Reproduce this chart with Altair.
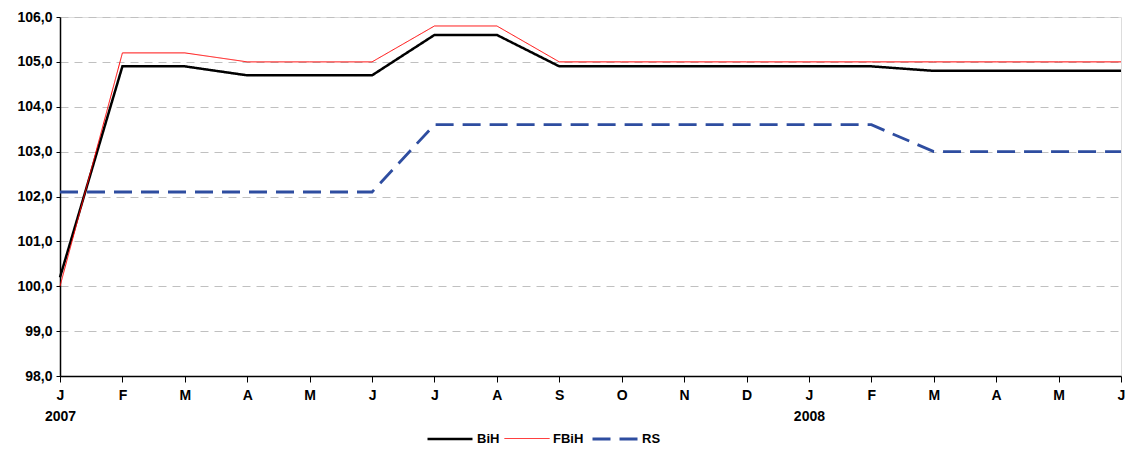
import altair as alt
import pandas as pd

month_labels = ["J", "F", "M", "A", "M", "J", "J", "A", "S", "O", "N", "D",
                "J", "F", "M", "A", "M", "J"]
year_labels = {0: "2007", 12: "2008"}

bih = [100.2, 104.9, 104.9, 104.7, 104.7, 104.7, 105.6, 105.6, 104.9, 104.9,
       104.9, 104.9, 104.9, 104.9, 104.8, 104.8, 104.8, 104.8]
fbih = [100.0, 105.2, 105.2, 105.0, 105.0, 105.0, 105.8, 105.8, 105.0, 105.0,
        105.0, 105.0, 105.0, 105.0, 105.0, 105.0, 105.0, 105.0]
rs = [102.1, 102.1, 102.1, 102.1, 102.1, 102.1, 103.6, 103.6, 103.6, 103.6,
      103.6, 103.6, 103.6, 103.6, 103.0, 103.0, 103.0, 103.0]

series = ["BiH", "FBiH", "RS"]
colors = ["#000000", "#ff0000", "#2e4da0"]
widths = [2.5, 1.0, 2.8]
dashes = [[1, 0], [1, 0], [18, 9]]

rows = []
for name, vals in zip(series, [bih, fbih, rs]):
    for i, v in enumerate(vals):
        rows.append({"i": i, "value": v, "series": name})
df = pd.DataFrame(rows)

label_map = "{" + ",".join(
    f"{i}: {repr([m, year_labels[i]]) if i in year_labels else repr(m)}"
    for i, m in enumerate(month_labels)
) + "}"
label_expr = "(" + label_map + ")[datum.value]"

font = "Arial, Liberation Sans, sans-serif"

legend = alt.Legend(title=None, orient="none", direction="horizontal",
                    legendX=366, legendY=398, padding=0,
                    symbolType="stroke", symbolSize=2025,
                    labelFont=font, labelFontSize=13, labelOffset=3,
                    labelFontWeight="bold", labelColor="#000000",
                    columnPadding=2)

chart = alt.Chart(df).mark_line(clip=False).encode(
    x=alt.X("i:Q",
            scale=alt.Scale(domain=[0, len(month_labels) - 1], nice=False, zero=False),
            axis=alt.Axis(title=None, values=list(range(len(month_labels))),
                          labelExpr=label_expr, grid=False,
                          domainColor="#000000", domainWidth=1.5,
                          tickColor="#000000", tickSize=6, tickWidth=1,
                          labelFont=font, labelFontSize=14, labelFontWeight="bold",
                          labelColor="#000000", labelPadding=6,
                          labelLineHeight=21, labelAlign="center",
                          labelBaseline="top", labelFlush=False)),
    y=alt.Y("value:Q",
            scale=alt.Scale(domain=[98, 106], nice=False, zero=False),
            axis=alt.Axis(title=None, values=list(range(98, 107)),
                          labelExpr="replace(format(datum.value, '.1f'), '.', ',')",
                          grid=True, gridColor="#c0c0c0", gridDash=[8, 6], gridWidth=1,
                          domainColor="#000000", domainWidth=1.5,
                          tickColor="#000000", tickSize=4,
                          labelFont=font, labelFontSize=14, labelFontWeight="bold",
                          labelColor="#000000", labelPadding=4)),
    color=alt.Color("series:N",
                    scale=alt.Scale(domain=series, range=colors),
                    legend=legend),
    strokeWidth=alt.StrokeWidth("series:N",
                                scale=alt.Scale(type="ordinal", domain=series, range=widths),
                                legend=legend),
    strokeDash=alt.StrokeDash("series:N",
                              scale=alt.Scale(domain=series, range=dashes),
                              legend=legend),
).properties(
    width=1061, height=359,
    padding={"left": 52, "top": 9, "right": 4, "bottom": 70},
    autosize=alt.AutoSizeParams(type="none"),
).configure_view(
    stroke="#c0c0c0", strokeWidth=1
).configure(background="white")

chart.save("out.html", embed_options={"renderer": "svg", "actions": False})
